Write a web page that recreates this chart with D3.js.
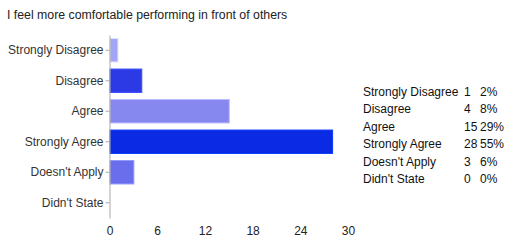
<!DOCTYPE html>
<html>
<head>
<meta charset="utf-8">
<script src="https://cdn.jsdelivr.net/npm/d3@7"></script>
<style>
  html, body { margin: 0; padding: 0; background: #fff; }
  #chart { width: 513px; height: 240px; }
  svg { display: block; font-family: "Liberation Sans", Arial, sans-serif; }
</style>
</head>
<body>
<div id="chart"></div>
<script>
const title = "I feel more comfortable performing in front of others";
const categories = ["Strongly Disagree", "Disagree", "Agree", "Strongly Agree", "Doesn't Apply", "Didn't State"];
const counts = [1, 4, 15, 28, 3, 0];
const percents = ["2%", "8%", "29%", "55%", "6%", "0%"];
const xTicks = [0, 6, 12, 18, 24, 30];

class BarChart {
  constructor({ elChart, width = 513, height = 240 }) {
    this.elChart = elChart;
    this.width = width;
    this.height = height;
    this.init();
  }

  init() {
    this.setup();
    this.scaffold();
    this.render();
  }

  setup() {
    this.margin = { top: 35, right: 165, bottom: 22, left: 109.5 };

    this.x = d3
      .scaleLinear()
      .domain([0, d3.max(xTicks)])
      .range([this.margin.left, 348]);

    this.y = d3
      .scaleBand()
      .domain(categories)
      .range([this.margin.top, this.height - this.margin.bottom])
      .paddingInner(0.2)
      .paddingOuter(0.1);

    this.color = d3
      .scaleOrdinal()
      .domain(categories)
      .range(["#a2a4f6", "#2c3ae6", "#8688f0", "#0a2ae4", "#6a6eec", "#b0b0f0"]);
  }

  scaffold() {
    this.svg = d3
      .select(this.elChart)
      .append("svg")
      .attr("width", this.width)
      .attr("height", this.height);
  }

  render() {
    this.renderTitle();
    this.renderBars();
    this.renderAxes();
    this.renderTable();
  }

  renderTitle() {
    this.svg
      .append("text")
      .attr("x", 7)
      .attr("y", 19)
      .attr("font-size", 12.3)
      .attr("fill", "#222")
      .text(title);
  }

  renderBars() {
    const data = categories.map((c, i) => ({ label: c, value: counts[i] }));
    this.svg
      .append("g")
      .selectAll("rect")
      .data(data.filter((d) => d.value > 0))
      .join("rect")
      .attr("x", this.x(0) + 0.5)
      .attr("y", (d) => this.y(d.label) + 0.5)
      .attr("width", (d) => this.x(d.value) - this.x(0))
      .attr("height", this.y.bandwidth() - 1)
      .attr("fill", (d) => this.color(d.label))
      .attr("stroke", (d) => d3.color(this.color(d.label)).brighter(0.9))
      .attr("stroke-width", 1);
  }

  renderAxes() {
    const yAxis = this.svg
      .append("g")
      .attr("transform", `translate(${this.x(0)},0)`)
      .call(d3.axisLeft(this.y).tickSize(4).tickPadding(2).tickSizeOuter(0));
    yAxis.select(".domain").attr("stroke", "#aaa");
    yAxis.selectAll(".tick line").attr("stroke", "#aaa");
    yAxis
      .selectAll(".tick text")
      .attr("font-size", 12)
      .attr("font-family", "Liberation Sans, Arial, sans-serif")
      .attr("fill", "#333");

    const xAxis = this.svg
      .append("g")
      .attr("transform", `translate(0,${this.height - this.margin.bottom})`)
      .call(d3.axisBottom(this.x).tickValues(xTicks).tickSize(0).tickPadding(8));
    xAxis.select(".domain").remove();
    xAxis
      .selectAll(".tick text")
      .attr("font-size", 12)
      .attr("font-family", "Liberation Sans, Arial, sans-serif")
      .attr("fill", "#222");
  }

  renderTable() {
    // rows of the summary table to the right of the chart
    const rowY = d3.scalePoint().domain(categories).range([96, 183]);
    const cols = [
      { x: 363, text: (d) => d },
      { x: 464, text: (d, i) => counts[i] },
      { x: 480, text: (d, i) => percents[i] },
    ];
    const row = this.svg
      .append("g")
      .attr("font-size", 12)
      .attr("fill", "#111")
      .selectAll("g")
      .data(categories)
      .join("g")
      .attr("transform", (d) => `translate(0,${rowY(d)})`);
    cols.forEach((col) => {
      row
        .append("text")
        .attr("x", col.x)
        .text(col.text);
    });
  }
}

new BarChart({ elChart: document.getElementById("chart") });
</script>
</body>
</html>
